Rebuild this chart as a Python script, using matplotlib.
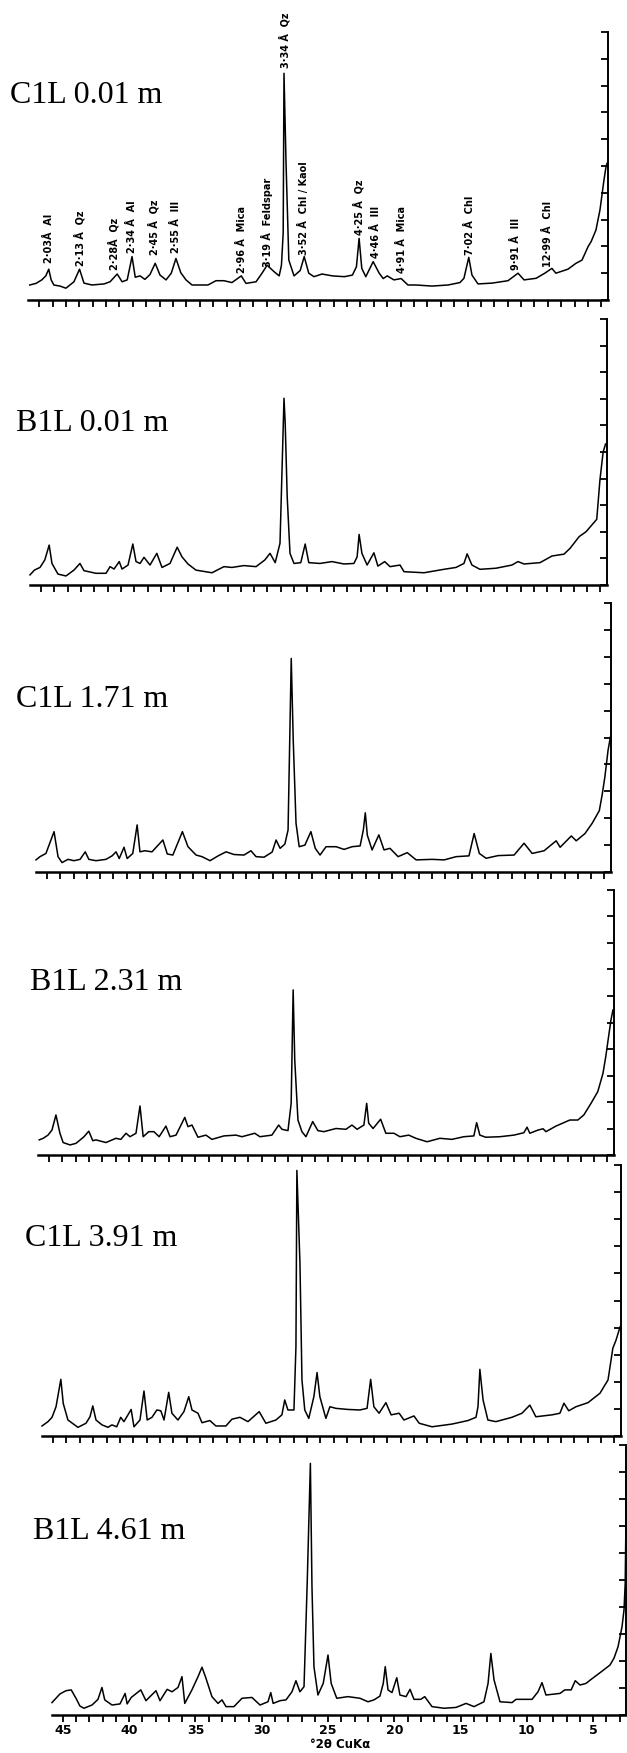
import matplotlib
matplotlib.use("Agg")
import matplotlib.pyplot as plt
from matplotlib.ticker import MultipleLocator

# sample names, top to bottom
samples = ["C1L 0.01 m", "B1L 0.01 m", "C1L 1.71 m", "B1L 2.31 m", "C1L 3.91 m", "B1L 4.61 m"]

# diffractograms as (°2θ, intensity in chart divisions)
trace_c1l_001 = [
    (45.7, 0.56), (45.23, 0.62), (44.8, 0.75), (44.5, 0.9), (44.28, 1.15), (44.1, 0.75), (43.9, 0.56),
    (43.44, 0.52), (43.0, 0.44),
    (42.4, 0.68), (41.98, 1.15), (41.65, 0.63), (41.05, 0.56), (40.15, 0.6), (39.7, 0.68), (39.17, 0.97),
    (38.8, 0.68), (38.42, 0.75), (38.06, 1.62), (37.82, 0.85), (37.46, 0.9), (37.1, 0.77), (36.72, 0.95),
    (36.33, 1.37), (35.97, 0.93), (35.52, 0.75), (35.13, 1.0), (34.78, 1.55), (34.42, 1.02), (34.03, 0.75),
    (33.58, 0.56), (32.39, 0.56), (31.79, 0.72), (31.19, 0.72), (30.6, 0.65), (29.9, 0.9), (29.55, 0.62),
    (28.8, 0.68), (28.35, 1.0), (27.97, 1.3), (27.46, 1.06), (27.07, 0.9), (26.9, 1.3), (26.77, 2.5),
    (26.71, 8.46), (26.56, 5.16), (26.35, 1.49), (25.96, 0.9), (25.5, 1.1), (25.2, 1.62), (24.86, 1.0),
    (24.47, 0.87), (23.87, 0.97), (23.1, 0.9), (22.2, 0.87), (21.6, 0.93), (21.3, 1.24), (21.1, 2.3),
    (20.9, 1.18), (20.6, 0.87), (20.05, 1.43), (19.6, 1.0), (19.3, 0.8), (19.0, 0.9), (18.5, 0.75),
    (17.96, 0.8), (17.45, 0.56), (16.85, 0.56), (15.66, 0.52), (14.46, 0.56), (13.57, 0.65), (13.27, 0.81),
    (12.91, 1.59), (12.67, 0.93), (12.22, 0.6), (11.17, 0.63), (9.98, 0.72), (9.23, 1.0), (8.78, 0.75),
    (7.88, 0.81), (7.23, 1.0), (6.7, 1.18), (6.4, 1.0), (5.5, 1.15), (4.9, 1.37), (4.45, 1.49), (4.0, 1.99),
    (3.77, 2.18), (3.41, 2.61), (3.11, 3.36), (2.81, 4.48), (2.66, 4.97), (2.58, 5.1),
]
trace_b1l_001 = [
    (45.83, 0.38), (45.5, 0.56), (45.08, 0.66), (44.72, 0.94), (44.39, 1.5), (44.18, 0.81), (43.73, 0.41),
    (43.13, 0.34), (42.53, 0.56), (42.08, 0.81), (41.78, 0.54), (40.88, 0.44), (40.12, 0.44), (39.82, 0.69),
    (39.52, 0.6), (39.13, 0.88), (38.92, 0.6), (38.47, 0.75), (38.11, 1.54), (37.87, 0.88), (37.57, 0.81),
    (37.27, 1.04), (36.82, 0.75), (36.31, 1.19), (35.92, 0.66), (35.32, 0.81), (34.78, 1.42), (34.42, 1.06),
    (33.97, 0.79), (33.37, 0.56), (32.17, 0.46), (31.27, 0.69), (30.67, 0.66), (29.77, 0.73), (28.86, 0.69),
    (28.2, 0.94), (27.81, 1.19), (27.42, 0.84), (27.06, 1.57), (26.76, 7.02), (26.67, 6.08), (26.52, 3.32),
    (26.31, 1.19), (26.01, 0.81), (25.5, 0.84), (25.17, 1.54), (24.9, 0.84), (24.06, 0.81), (23.16, 0.88),
    (22.26, 0.79), (21.51, 0.81), (21.27, 1.06), (21.12, 1.9), (20.91, 1.19), (20.52, 0.75), (20.01, 1.21),
    (19.71, 0.71), (19.2, 0.88), (18.8, 0.69), (18.05, 0.75), (17.75, 0.5), (16.25, 0.46), (14.75, 0.59),
    (13.85, 0.66), (13.25, 0.81), (13.01, 1.17), (12.65, 0.75), (12.05, 0.59), (10.85, 0.63), (9.65, 0.75),
    (9.19, 0.88), (8.74, 0.79), (7.54, 0.84), (6.64, 1.09), (5.74, 1.16), (5.28, 1.38), (4.6, 1.82),
    (4.09, 2.0), (3.64, 2.26), (3.28, 2.47), (3.04, 3.95), (2.8, 5.0), (2.62, 5.3),
]
trace_c1l_171 = [
    (45.83, 0.45), (45.53, 0.57), (45.08, 0.69), (44.47, 1.5), (44.17, 0.57), (43.87, 0.35), (43.42, 0.47),
    (42.97, 0.42), (42.51, 0.47), (42.12, 0.75), (41.85, 0.47), (41.31, 0.42), (40.56, 0.47), (40.1, 0.6),
    (39.8, 0.75), (39.56, 0.5), (39.2, 0.92), (38.96, 0.5), (38.54, 0.69), (38.21, 1.75), (38.0, 0.75),
    (37.63, 0.79), (37.09, 0.75), (36.27, 1.19), (35.94, 0.67), (35.52, 0.63), (34.8, 1.5), (34.38, 0.94),
    (33.77, 0.63), (33.32, 0.57), (32.72, 0.42), (32.11, 0.6), (31.51, 0.75), (30.91, 0.65), (30.16, 0.63),
    (29.64, 0.79), (29.25, 0.57), (28.65, 0.55), (28.04, 0.74), (27.74, 1.19), (27.44, 0.88), (27.08, 1.04),
    (26.84, 1.56), (26.6, 7.94), (26.45, 4.9), (26.24, 1.81), (26.0, 0.94), (25.57, 1.0), (25.12, 1.5),
    (24.79, 0.88), (24.43, 0.63), (23.98, 0.94), (23.22, 0.94), (22.62, 0.84), (22.02, 0.94), (21.41, 0.97),
    (21.17, 1.56), (21.02, 2.2), (20.87, 1.37), (20.51, 0.82), (20.0, 1.38), (19.61, 0.82), (19.16, 0.88),
    (18.55, 0.57), (17.86, 0.72), (17.19, 0.45), (15.99, 0.47), (15.08, 0.45), (14.18, 0.57), (13.21, 0.6),
    (12.82, 1.43), (12.43, 0.69), (11.92, 0.51), (11.01, 0.61), (9.81, 0.63), (9.06, 1.07), (8.45, 0.69),
    (7.55, 0.79), (6.64, 1.16), (6.34, 0.92), (5.5, 1.34), (5.13, 1.16), (4.47, 1.43), (3.93, 1.81),
    (3.39, 2.28), (3.18, 2.86), (2.97, 3.54), (2.73, 4.53), (2.55, 5.03),
]
trace_b1l_231 = [
    (45.74, 0.57), (45.44, 0.63), (45.08, 0.75), (44.78, 0.94), (44.48, 1.51), (44.18, 0.82), (43.94, 0.47),
    (43.42, 0.38), (42.97, 0.44), (42.37, 0.69), (42.01, 0.9), (41.71, 0.54), (41.47, 0.57), (40.72, 0.47),
    (39.97, 0.63), (39.6, 0.59), (39.21, 0.82), (38.91, 0.69), (38.46, 0.82), (38.16, 1.85), (37.92, 0.69),
    (37.5, 0.88), (37.11, 0.88), (36.72, 0.69), (36.21, 1.09), (35.9, 0.69), (35.45, 0.75), (34.79, 1.42),
    (34.55, 1.07), (34.25, 1.13), (33.8, 0.67), (33.2, 0.75), (32.75, 0.59), (31.85, 0.72), (30.94, 0.75),
    (30.49, 0.69), (29.53, 0.82), (29.14, 0.69), (28.24, 0.75), (27.73, 1.13), (27.48, 0.97), (27.03, 0.92),
    (26.79, 1.95), (26.64, 6.23), (26.52, 3.58), (26.28, 1.32), (25.98, 0.88), (25.68, 0.69), (25.17, 1.26),
    (24.78, 0.92), (24.33, 0.88), (23.42, 1.0), (22.67, 0.97), (22.22, 1.13), (21.83, 0.97), (21.32, 1.13),
    (21.11, 1.95), (20.96, 1.2), (20.63, 1.0), (20.06, 1.35), (19.67, 0.82), (19.06, 0.82), (18.61, 0.69),
    (17.95, 0.75), (17.41, 0.63), (16.57, 0.5), (15.6, 0.63), (14.7, 0.59), (13.8, 0.69), (13.05, 0.72),
    (12.84, 1.22), (12.6, 0.75), (12.15, 0.67), (11.09, 0.69), (10.04, 0.75), (9.29, 0.84), (9.05, 1.05),
    (8.84, 0.82), (8.23, 0.94), (7.84, 0.99), (7.63, 0.88), (6.88, 1.09), (5.83, 1.32), (5.23, 1.32),
    (4.78, 1.51), (4.24, 1.95), (3.73, 2.39), (3.34, 3.08), (3.13, 3.71), (2.92, 4.46), (2.74, 5.09),
    (2.59, 5.47),
]
trace_c1l_391 = [
    (45.83, 0.37), (45.38, 0.53), (45.08, 0.69), (44.78, 1.08), (44.42, 2.09), (44.24, 1.2), (43.89, 0.59),
    (43.14, 0.32), (42.54, 0.47), (42.24, 0.71), (42.03, 1.11), (41.79, 0.59), (41.34, 0.41), (40.89, 0.32),
    (40.6, 0.41), (40.24, 0.34), (39.94, 0.69), (39.7, 0.53), (39.16, 0.98), (38.95, 0.34), (38.5, 0.59),
    (38.2, 1.66), (37.96, 0.59), (37.6, 0.69), (37.24, 0.96), (36.94, 0.93), (36.7, 0.59), (36.35, 1.61),
    (36.11, 0.84), (35.66, 0.59), (35.21, 0.9), (34.85, 1.45), (34.61, 0.96), (34.16, 0.84), (33.86, 0.49),
    (33.27, 0.57), (32.82, 0.37), (32.07, 0.37), (31.62, 0.62), (31.02, 0.69), (30.42, 0.53), (29.58, 0.9),
    (29.08, 0.47), (28.33, 0.59), (27.88, 0.78), (27.67, 1.33), (27.43, 0.96), (26.98, 0.96), (26.83, 3.3),
    (26.76, 9.8), (26.53, 6.37), (26.38, 2.07), (26.17, 0.96), (25.87, 0.65), (25.49, 1.45), (25.25, 2.34),
    (25.04, 1.45), (24.59, 0.65), (24.29, 1.08), (23.84, 1.02), (22.94, 0.98), (22.05, 0.96), (21.51, 1.02),
    (21.24, 2.09), (21.0, 1.08), (20.61, 0.84), (20.1, 1.23), (19.71, 0.78), (19.11, 0.84), (18.75, 0.59),
    (18.0, 0.74), (17.61, 0.47), (16.65, 0.34), (15.16, 0.44), (13.96, 0.57), (13.36, 0.69), (13.21, 1.08),
    (13.07, 2.46), (12.83, 1.33), (12.47, 0.59), (11.87, 0.53), (10.67, 0.69), (9.92, 0.84), (9.33, 1.14),
    (8.88, 0.71), (7.68, 0.78), (7.08, 0.84), (6.78, 1.21), (6.42, 0.93), (5.88, 1.08), (4.98, 1.23),
    (4.08, 1.58), (3.48, 2.07), (3.33, 2.56), (3.12, 3.24), (2.88, 3.54), (2.58, 4.03),
]
trace_b1l_461 = [
    (45.83, 0.46), (45.53, 0.62), (45.23, 0.78), (44.77, 0.9), (44.38, 0.93), (44.02, 0.62), (43.72, 0.33),
    (43.42, 0.25), (42.81, 0.37), (42.36, 0.58), (42.06, 1.02), (41.85, 0.56), (41.3, 0.37), (40.7, 0.41),
    (40.31, 0.8), (40.16, 0.41), (39.85, 0.65), (39.13, 0.93), (38.74, 0.53), (37.98, 0.9), (37.68, 0.53),
    (37.14, 0.95), (36.77, 0.86), (36.32, 1.02), (36.02, 1.42), (35.81, 0.43), (35.27, 0.93), (34.81, 1.42),
    (34.51, 1.77), (34.21, 1.36), (33.76, 0.68), (33.3, 0.43), (33.0, 0.56), (32.7, 0.31), (32.1, 0.31),
    (31.49, 0.62), (30.74, 0.65), (30.13, 0.37), (29.53, 0.49), (29.32, 0.83), (29.14, 0.43), (28.62, 0.53),
    (28.17, 0.56), (27.72, 0.86), (27.42, 1.27), (27.12, 0.86), (26.81, 1.05), (26.57, 4.88), (26.33, 9.32),
    (26.21, 4.75), (26.06, 1.79), (25.76, 0.74), (25.36, 1.17), (25.0, 2.22), (24.76, 1.17), (24.34, 0.62),
    (23.49, 0.68), (22.59, 0.62), (21.98, 0.49), (21.53, 0.56), (21.08, 0.7), (20.83, 1.17), (20.68, 1.79),
    (20.47, 0.93), (20.17, 0.83), (19.81, 1.38), (19.57, 0.74), (19.11, 0.68), (18.81, 0.95), (18.51, 0.58),
    (18.0, 0.58), (17.7, 0.68), (17.15, 0.31), (16.24, 0.25), (15.34, 0.28), (14.58, 0.43), (13.98, 0.31),
    (13.23, 0.49), (12.92, 1.17), (12.71, 2.28), (12.47, 1.3), (12.02, 0.49), (11.11, 0.46), (10.81, 0.58),
    (9.6, 0.58), (9.15, 0.86), (8.85, 1.2), (8.55, 0.74), (7.49, 0.8), (7.13, 0.93), (6.65, 0.93),
    (6.34, 1.27), (5.98, 1.11), (5.53, 1.17), (5.14, 1.32), (4.3, 1.63), (3.72, 1.85), (3.42, 2.1),
    (3.11, 2.53), (2.81, 3.27), (2.66, 3.89), (2.57, 4.88), (2.51, 7.35), (2.51, 9.32),
]
traces = [trace_c1l_001, trace_b1l_001, trace_c1l_171, trace_b1l_231, trace_c1l_391, trace_b1l_461]

# reflections marked on the uppermost trace: label, °2θ, height where the label starts
peak_labels = ["2·03Å  Al", "2·13 Å  Qz", "2·28Å  Qz", "2·34 Å  Al", "2·45 Å  Qz", "2·55 Å  Ill",
               "2·96 Å  Mica", "3·19 Å  Feldspar", "3·34 Å  Qz", "3·52 Å  Chl / Kaol", "4·25 Å  Qz",
               "4·46 Å  Ill", "4·91 Å  Mica", "7·02 Å  Chl", "9·91 Å  Ill", "12·99 Å  Chl"]
peak_label_2theta = [44.3, 41.98, 39.41, 38.06, 36.42, 34.78, 29.85, 27.98, 26.64, 25.22, 21.1,
                     19.84, 17.9, 12.82, 9.39, 7.0]
peak_label_base = [1.38, 1.25, 1.12, 1.75, 1.68, 1.75, 1.0, 1.23, 8.66, 1.68, 2.43,
                   1.57, 1.0, 1.68, 1.12, 1.23]

bottom_ticks = [45, 40, 35, 30, 25, 20, 15, 10, 5]

# panel frames in pixels of the 627 x 1753 page: left, right, top, bottom
W, H = 627, 1753
frames = [(28, 608, 32, 300), (30, 607, 319, 585), (36, 611, 603, 872),
          (38, 614, 890, 1155), (42, 621, 1165, 1436), (52, 626, 1445, 1715)]
# sample name positions (left, baseline) in pixels
name_pos = [(10, 103), (16, 431), (16, 707), (30, 990), (25, 1246), (33, 1539)]

fig = plt.figure(figsize=(W / 100, H / 100), dpi=100)
fig.patch.set_facecolor("white")

for i, (trace, (l, r, t, b)) in enumerate(zip(traces, frames)):
    ax = fig.add_axes([l / W, 1 - b / H, (r - l) / W, (b - t) / H])
    ax.set_facecolor("none")
    xs = [p[0] for p in trace]
    ys = [p[1] for p in trace]
    ax.plot(xs, ys, color="black", lw=1.1, solid_joinstyle="round", clip_on=False)
    ax.set_xlim(45.83, 2.51)
    ax.set_ylim(0, 10)
    for side in ("left", "top"):
        ax.spines[side].set_visible(False)
    ax.spines["bottom"].set_linewidth(1.8)
    ax.spines["right"].set_linewidth(1.4)

    ax.yaxis.tick_right()
    ax.set_yticks(range(0, 11))
    ax.tick_params(axis="y", direction="in", length=5, width=1.3, labelright=False, right=True, left=False)

    ax.xaxis.set_minor_locator(MultipleLocator(1))
    ax.tick_params(axis="x", which="both", direction="out", length=5, width=1.3)
    if i == len(traces) - 1:
        ax.set_xticks(bottom_ticks)
        ax.set_xticklabels([str(v) for v in bottom_ticks], fontsize=9, fontweight="bold",
                           family="DejaVu Sans")
        ax.tick_params(axis="x", which="major", pad=1.5)
    else:
        ax.set_xticks([])

    nx, ny = name_pos[i]
    fig.text(nx / W, 1 - ny / H, samples[i], family="Liberation Serif", fontsize=23,
             va="baseline", ha="left")

    if i == 0:
        for lab, x, y0 in zip(peak_labels, peak_label_2theta, peak_label_base):
            ax.text(x, y0, lab, rotation=90, ha="center", va="bottom", fontsize=7,
                    fontweight="bold", family="DejaVu Sans")

fig.text(340 / W, 1 - 1745 / H, "°2θ CuKα", ha="center", va="center", fontsize=8.5,
         fontweight="bold", family="DejaVu Sans")

fig.savefig("out.png", dpi=100, facecolor="white")
